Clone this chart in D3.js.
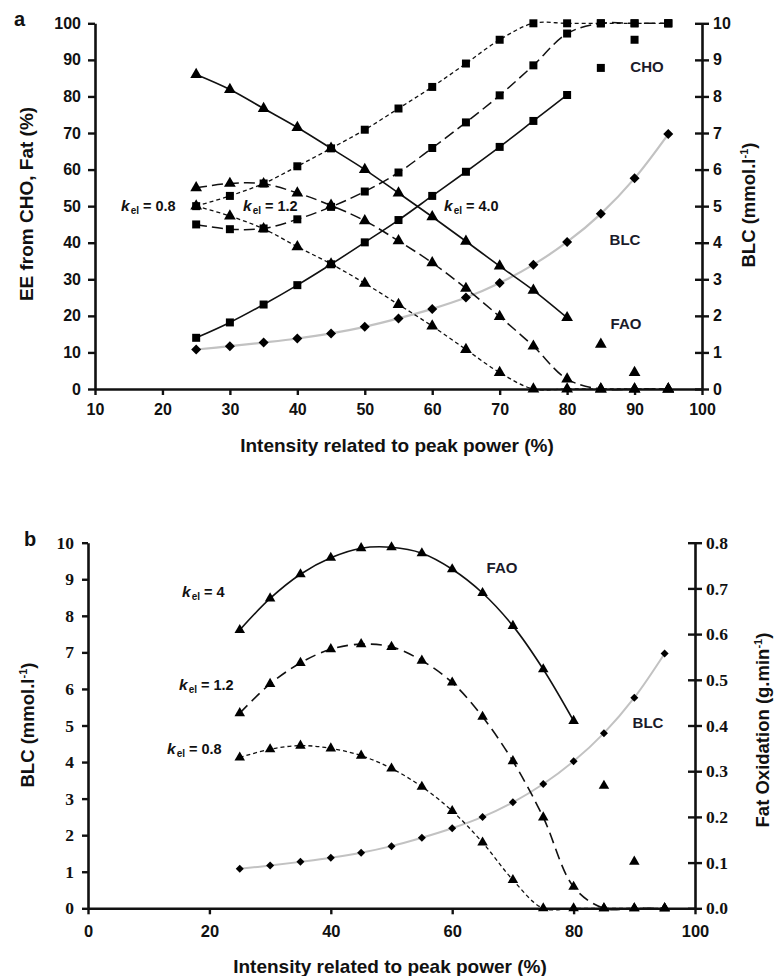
<!DOCTYPE html>
<html><head><meta charset="utf-8">
<script src="https://cdn.jsdelivr.net/npm/d3@7"></script>
<style>body{margin:0;background:#fff}</style></head>
<body>
<svg id="c" width="774" height="976"></svg>
<script>
// ---------- data ----------
const intensity = [25,30,35,40,45,50,55,60,65,70,75,80,85,90,95];
// panel a : EE from CHO / Fat (%)
const choK08 = [50,52.8,56.2,60.9,65.8,70.9,76.7,82.6,89.0,95.5,100,100,100,100,100];
const fatK08 = [50,47.3,43.8,38.9,34.2,28.9,23.1,17.2,10.8,4.5,0,0,0,0,0];
const choK12 = [45,43.7,43.9,46.4,49.8,54.0,59.2,65.9,72.9,80.3,88.5,97.2,100,100,100];
const fatK12 = [55,56.2,56.1,53.6,50.2,46.0,40.5,34.5,27.5,19.8,11.7,2.7,0,0,0];
const choK40 = [14,18.2,23.1,28.4,34.1,40.1,46.2,52.8,59.4,66.2,73.3,80.4,87.8,95.5,100];
const fatK40 = [86,81.9,76.7,71.5,65.8,60.0,53.6,47.1,40.4,33.6,27.0,19.5,12.2,4.5,0];
// blood lactate (mmol/l)
const blc = [1.08,1.17,1.27,1.38,1.52,1.70,1.93,2.19,2.50,2.90,3.40,4.02,4.79,5.76,6.97];
// panel b : fat oxidation (g/min)
const foK40 = [0.609,0.678,0.731,0.767,0.788,0.790,0.777,0.742,0.690,0.618,0.523,0.410,0.268,0.102,0];
const foK12 = [0.427,0.491,0.537,0.567,0.578,0.572,0.542,0.494,0.419,0.322,0.199,0.047,0,0,0];
const foK08 = [0.330,0.348,0.356,0.350,0.334,0.306,0.266,0.213,0.144,0.062,0,0,0,0,0];
// ticks
const xTicksA = [10,20,30,40,50,60,70,80,90,100];
const yTicksA = [0,10,20,30,40,50,60,70,80,90,100];
const y2TicksA = [0,1,2,3,4,5,6,7,8,9,10];
const xTicksB = [0,20,40,60,80,100];
const yTicksB = [0,1,2,3,4,5,6,7,8,9,10];
const y2TicksB = [0,0.1,0.2,0.3,0.4,0.5,0.6,0.7,0.8];

const svg = d3.select("#c");
const SANS = "'Liberation Sans', Arial, sans-serif";
const SERIF = "'Liberation Serif', 'Times New Roman', serif";
const INK = "#111";

function styleAxis(g, font, size) {
  g.select(".domain").attr("stroke", INK).attr("stroke-width", 2.6);
  g.selectAll(".tick line").attr("stroke", INK).attr("stroke-width", 2.4);
  g.selectAll(".tick text").attr("font-family", font).attr("font-weight", "bold")
    .attr("font-size", size).attr("fill", INK);
}

function kelLabel(x, y, val) {
  const t = svg.append("text").attr("x", x).attr("y", y)
    .attr("font-family", SANS).attr("font-weight", "bold").attr("font-size", 14.5).attr("fill", INK);
  t.append("tspan").attr("font-style", "italic").attr("font-size", 15.5).text("k");
  t.append("tspan").attr("font-size", 10).attr("dy", 3).attr("dx", 1).text("el");
  t.append("tspan").attr("dy", -3).text(" = " + val);
}

function plainLabel(x, y, txt) {
  svg.append("text").attr("x", x).attr("y", y).attr("text-anchor", "middle")
    .attr("font-family", SANS).attr("font-weight", "bold").attr("font-size", 15)
    .attr("fill", "#1b1b2a").text(txt);
}

function drawSeries(x, y, vals, opts) {
  const pts = intensity.map((d, i) => ({x: d, v: vals[i]}));
  const linePts = pts.slice(0, opts.lineEnd !== undefined ? opts.lineEnd + 1 : pts.length);
  const line = d3.line().x(d => x(d.x)).y(d => y(d.v)).curve(d3.curveCatmullRom.alpha(0.5));
  svg.append("path").datum(linePts).attr("d", line)
    .attr("fill", "none").attr("stroke", opts.color || INK)
    .attr("stroke-width", opts.width || 1.5)
    .attr("stroke-dasharray", opts.dash || null);
  const sym = d3.symbol().type(opts.symbol).size(opts.size);
  svg.append("g").selectAll("path").data(pts).join("path")
    .attr("transform", d => `translate(${x(d.x)},${y(d.v)})` + (opts.rotate ? ` rotate(${opts.rotate})` : ""))
    .attr("d", sym).attr("fill", "#000");
}

function titleSup(tx, ty, main, size) {
  const t = svg.append("text").attr("transform", `translate(${tx},${ty}) rotate(-90)`).attr("text-anchor", "middle")
    .attr("font-family", SANS).attr("font-weight", "bold").attr("font-size", size).attr("fill", INK);
  t.append("tspan").text(main);
  t.append("tspan").attr("dy", -7).attr("font-size", size * 0.6).text("-1");
  t.append("tspan").attr("dy", 7).text(")");
}

// ================= PANEL A =================
{
  const x = d3.scaleLinear().domain([10, 100]).range([95, 702]);
  const y = d3.scaleLinear().domain([0, 100]).range([389, 23.3]);
  const y2 = d3.scaleLinear().domain([0, 10]).range([389, 23.3]);

  const gx = svg.append("g").attr("transform", "translate(0,389)")
    .call(d3.axisBottom(x).tickValues(xTicksA).tickSize(6).tickSizeOuter(0).tickPadding(9));
  styleAxis(gx, SANS, 16);
  const gy = svg.append("g").attr("transform", "translate(95,0)")
    .call(d3.axisLeft(y).tickValues(yTicksA).tickSize(7).tickSizeOuter(0).tickPadding(7));
  styleAxis(gy, SANS, 16);
  const gy2 = svg.append("g").attr("transform", "translate(702,0)")
    .call(d3.axisRight(y2).tickValues(y2TicksA).tickSize(7).tickSizeOuter(0).tickPadding(4));
  gy2.selectAll(".tick line").attr("x1", -7);
  styleAxis(gy2, SANS, 16);

  const sq = 64, tri = 60, dia = 50;
  drawSeries(x, y2, blc, {symbol: d3.symbolSquare, rotate: 45, size: dia, color: "#c2c2c2", width: 2.2});
  drawSeries(x, y, choK08, {symbol: d3.symbolSquare, size: sq, dash: "4,3", width: 1.3});
  drawSeries(x, y, fatK08, {symbol: d3.symbolTriangle, size: tri, dash: "4,3", width: 1.3});
  drawSeries(x, y, choK12, {symbol: d3.symbolSquare, size: sq, dash: "11,5", width: 1.5});
  drawSeries(x, y, fatK12, {symbol: d3.symbolTriangle, size: tri, dash: "11,5", width: 1.5});
  drawSeries(x, y, choK40, {symbol: d3.symbolSquare, size: sq, lineEnd: 11, width: 1.6});
  drawSeries(x, y, fatK40, {symbol: d3.symbolTriangle, size: tri, lineEnd: 11, width: 1.6});

  kelLabel(121, 211, "0.8");
  kelLabel(243, 211, "1.2");
  kelLabel(444, 211, "4.0");
  plainLabel(647, 72, "CHO");
  plainLabel(625, 245, "BLC");
  plainLabel(626, 329, "FAO");

  svg.append("text").attr("x", 397).attr("y", 452).attr("text-anchor", "middle")
    .attr("font-family", SANS).attr("font-weight", "bold").attr("font-size", 19).attr("fill", INK)
    .text("Intensity related to peak power (%)");
  svg.append("text").attr("transform", "translate(33,204) rotate(-90)").attr("text-anchor", "middle")
    .attr("font-family", SANS).attr("font-weight", "bold").attr("font-size", 19).attr("fill", INK)
    .text("EE from CHO, Fat (%)");
  titleSup(755, 205, "BLC (mmol.l", 18.5);
  svg.append("text").attr("x", 14).attr("y", 26).attr("font-family", SANS).attr("font-weight", "bold")
    .attr("font-size", 20).attr("fill", INK).text("a");
}

// ================= PANEL B =================
{
  const x = d3.scaleLinear().domain([0, 100]).range([88, 695]);
  const y = d3.scaleLinear().domain([0, 10]).range([908.3, 542.7]);
  const y2 = d3.scaleLinear().domain([0, 0.8]).range([908.3, 542.7]);

  const gx = svg.append("g").attr("transform", "translate(0,908.3)")
    .call(d3.axisBottom(x).tickValues(xTicksB).tickSize(6).tickSizeOuter(0).tickPadding(11));
  styleAxis(gx, SANS, 16.5);
  const gy = svg.append("g").attr("transform", "translate(88,0)")
    .call(d3.axisLeft(y).tickValues(yTicksB).tickSize(6).tickSizeOuter(0).tickPadding(8));
  styleAxis(gy, SERIF, 17.5);
  const gy2 = svg.append("g").attr("transform", "translate(695,0)")
    .call(d3.axisRight(y2).tickValues(y2TicksB).tickFormat(d3.format(".1f")).tickSize(7).tickSizeOuter(0).tickPadding(4));
  gy2.selectAll(".tick line").attr("x1", -7);
  styleAxis(gy2, SERIF, 17.5);

  drawSeries(x, y, blc, {symbol: d3.symbolSquare, rotate: 45, size: 32, color: "#c2c2c2", width: 2});
  drawSeries(x, y2, foK08, {symbol: d3.symbolTriangle, size: 48, dash: "4,3", width: 1.3});
  drawSeries(x, y2, foK12, {symbol: d3.symbolTriangle, size: 48, dash: "11,6", width: 1.6});
  drawSeries(x, y2, foK40, {symbol: d3.symbolTriangle, size: 48, lineEnd: 11, width: 1.6});

  kelLabel(182, 597, "4");
  kelLabel(179, 690, "1.2");
  kelLabel(167, 754, "0.8");
  plainLabel(502, 573, "FAO");
  plainLabel(648, 728, "BLC");

  svg.append("text").attr("x", 390).attr("y", 973).attr("text-anchor", "middle")
    .attr("font-family", SANS).attr("font-weight", "bold").attr("font-size", 19).attr("fill", INK)
    .text("Intensity related to peak power (%)");
  titleSup(34, 725, "BLC (mmol.l", 18.5);
  titleSup(769, 730, "Fat Oxidation (g.min", 18.5);
  svg.append("text").attr("x", 24).attr("y", 546).attr("font-family", SANS).attr("font-weight", "bold")
    .attr("font-size", 20).attr("fill", INK).text("b");
}
</script>
</body></html>
